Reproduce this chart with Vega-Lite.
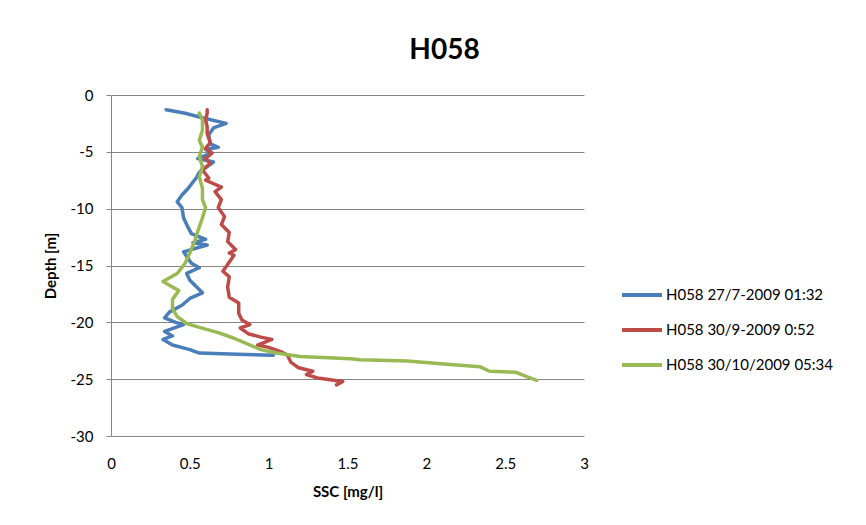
{
  "$schema": "https://vega.github.io/schema/vega-lite/v6.json",
  "autosize": "none",
  "width": 473,
  "height": 341,
  "padding": {"left": 111, "top": 95, "right": 282, "bottom": 89},
  "background": "white",
  "title": {"text": "H058", "fontSize": 28, "font": "Lato", "fontWeight": "bold", "color": "#000000", "anchor": "middle", "dx": 97, "dy": 33, "offset": 34, "baseline": "alphabetic"},
  "config": {"font": "Lato", "view": {"stroke": null}},
  "data": {"values": [
    {"s":"H058 27/7-2009 01:32","ssc":0.35,"depth":-1.3},
    {"s":"H058 27/7-2009 01:32","ssc":0.47,"depth":-1.6},
    {"s":"H058 27/7-2009 01:32","ssc":0.58,"depth":-2.0},
    {"s":"H058 27/7-2009 01:32","ssc":0.73,"depth":-2.5},
    {"s":"H058 27/7-2009 01:32","ssc":0.65,"depth":-2.9},
    {"s":"H058 27/7-2009 01:32","ssc":0.62,"depth":-3.5},
    {"s":"H058 27/7-2009 01:32","ssc":0.63,"depth":-4.3},
    {"s":"H058 27/7-2009 01:32","ssc":0.68,"depth":-4.6},
    {"s":"H058 27/7-2009 01:32","ssc":0.60,"depth":-4.8},
    {"s":"H058 27/7-2009 01:32","ssc":0.64,"depth":-5.1},
    {"s":"H058 27/7-2009 01:32","ssc":0.55,"depth":-5.6},
    {"s":"H058 27/7-2009 01:32","ssc":0.65,"depth":-5.9},
    {"s":"H058 27/7-2009 01:32","ssc":0.61,"depth":-6.3},
    {"s":"H058 27/7-2009 01:32","ssc":0.56,"depth":-6.8},
    {"s":"H058 27/7-2009 01:32","ssc":0.54,"depth":-7.3},
    {"s":"H058 27/7-2009 01:32","ssc":0.49,"depth":-8.2},
    {"s":"H058 27/7-2009 01:32","ssc":0.45,"depth":-8.8},
    {"s":"H058 27/7-2009 01:32","ssc":0.42,"depth":-9.4},
    {"s":"H058 27/7-2009 01:32","ssc":0.45,"depth":-9.9},
    {"s":"H058 27/7-2009 01:32","ssc":0.46,"depth":-10.8},
    {"s":"H058 27/7-2009 01:32","ssc":0.48,"depth":-11.4},
    {"s":"H058 27/7-2009 01:32","ssc":0.51,"depth":-12.2},
    {"s":"H058 27/7-2009 01:32","ssc":0.60,"depth":-12.7},
    {"s":"H058 27/7-2009 01:32","ssc":0.52,"depth":-13.0},
    {"s":"H058 27/7-2009 01:32","ssc":0.61,"depth":-13.2},
    {"s":"H058 27/7-2009 01:32","ssc":0.46,"depth":-13.8},
    {"s":"H058 27/7-2009 01:32","ssc":0.51,"depth":-14.8},
    {"s":"H058 27/7-2009 01:32","ssc":0.56,"depth":-15.2},
    {"s":"H058 27/7-2009 01:32","ssc":0.48,"depth":-15.7},
    {"s":"H058 27/7-2009 01:32","ssc":0.50,"depth":-16.3},
    {"s":"H058 27/7-2009 01:32","ssc":0.58,"depth":-17.4},
    {"s":"H058 27/7-2009 01:32","ssc":0.50,"depth":-17.9},
    {"s":"H058 27/7-2009 01:32","ssc":0.45,"depth":-18.5},
    {"s":"H058 27/7-2009 01:32","ssc":0.37,"depth":-19.1},
    {"s":"H058 27/7-2009 01:32","ssc":0.34,"depth":-19.6},
    {"s":"H058 27/7-2009 01:32","ssc":0.41,"depth":-20.0},
    {"s":"H058 27/7-2009 01:32","ssc":0.46,"depth":-20.2},
    {"s":"H058 27/7-2009 01:32","ssc":0.34,"depth":-20.8},
    {"s":"H058 27/7-2009 01:32","ssc":0.39,"depth":-21.2},
    {"s":"H058 27/7-2009 01:32","ssc":0.33,"depth":-21.5},
    {"s":"H058 27/7-2009 01:32","ssc":0.39,"depth":-22.0},
    {"s":"H058 27/7-2009 01:32","ssc":0.50,"depth":-22.4},
    {"s":"H058 27/7-2009 01:32","ssc":0.56,"depth":-22.7},
    {"s":"H058 27/7-2009 01:32","ssc":0.80,"depth":-22.8},
    {"s":"H058 27/7-2009 01:32","ssc":1.03,"depth":-22.9},
    {"s":"H058 30/9-2009 0:52","ssc":0.61,"depth":-1.3},
    {"s":"H058 30/9-2009 0:52","ssc":0.61,"depth":-1.6},
    {"s":"H058 30/9-2009 0:52","ssc":0.60,"depth":-2.2},
    {"s":"H058 30/9-2009 0:52","ssc":0.61,"depth":-2.8},
    {"s":"H058 30/9-2009 0:52","ssc":0.61,"depth":-3.4},
    {"s":"H058 30/9-2009 0:52","ssc":0.63,"depth":-4.2},
    {"s":"H058 30/9-2009 0:52","ssc":0.60,"depth":-4.7},
    {"s":"H058 30/9-2009 0:52","ssc":0.64,"depth":-5.1},
    {"s":"H058 30/9-2009 0:52","ssc":0.60,"depth":-5.6},
    {"s":"H058 30/9-2009 0:52","ssc":0.63,"depth":-6.0},
    {"s":"H058 30/9-2009 0:52","ssc":0.58,"depth":-6.6},
    {"s":"H058 30/9-2009 0:52","ssc":0.62,"depth":-7.3},
    {"s":"H058 30/9-2009 0:52","ssc":0.60,"depth":-7.5},
    {"s":"H058 30/9-2009 0:52","ssc":0.70,"depth":-8.1},
    {"s":"H058 30/9-2009 0:52","ssc":0.66,"depth":-8.5},
    {"s":"H058 30/9-2009 0:52","ssc":0.70,"depth":-9.2},
    {"s":"H058 30/9-2009 0:52","ssc":0.68,"depth":-9.9},
    {"s":"H058 30/9-2009 0:52","ssc":0.72,"depth":-10.7},
    {"s":"H058 30/9-2009 0:52","ssc":0.70,"depth":-11.4},
    {"s":"H058 30/9-2009 0:52","ssc":0.75,"depth":-12.1},
    {"s":"H058 30/9-2009 0:52","ssc":0.74,"depth":-12.9},
    {"s":"H058 30/9-2009 0:52","ssc":0.79,"depth":-13.6},
    {"s":"H058 30/9-2009 0:52","ssc":0.75,"depth":-13.9},
    {"s":"H058 30/9-2009 0:52","ssc":0.78,"depth":-14.1},
    {"s":"H058 30/9-2009 0:52","ssc":0.71,"depth":-15.5},
    {"s":"H058 30/9-2009 0:52","ssc":0.75,"depth":-16.0},
    {"s":"H058 30/9-2009 0:52","ssc":0.74,"depth":-16.9},
    {"s":"H058 30/9-2009 0:52","ssc":0.75,"depth":-17.8},
    {"s":"H058 30/9-2009 0:52","ssc":0.81,"depth":-18.3},
    {"s":"H058 30/9-2009 0:52","ssc":0.81,"depth":-19.2},
    {"s":"H058 30/9-2009 0:52","ssc":0.83,"depth":-19.8},
    {"s":"H058 30/9-2009 0:52","ssc":0.88,"depth":-20.2},
    {"s":"H058 30/9-2009 0:52","ssc":0.82,"depth":-20.5},
    {"s":"H058 30/9-2009 0:52","ssc":0.87,"depth":-21.0},
    {"s":"H058 30/9-2009 0:52","ssc":0.95,"depth":-21.3},
    {"s":"H058 30/9-2009 0:52","ssc":1.02,"depth":-21.5},
    {"s":"H058 30/9-2009 0:52","ssc":0.93,"depth":-22.0},
    {"s":"H058 30/9-2009 0:52","ssc":1.00,"depth":-22.2},
    {"s":"H058 30/9-2009 0:52","ssc":1.08,"depth":-22.6},
    {"s":"H058 30/9-2009 0:52","ssc":1.12,"depth":-22.9},
    {"s":"H058 30/9-2009 0:52","ssc":1.14,"depth":-23.5},
    {"s":"H058 30/9-2009 0:52","ssc":1.19,"depth":-24.0},
    {"s":"H058 30/9-2009 0:52","ssc":1.28,"depth":-24.3},
    {"s":"H058 30/9-2009 0:52","ssc":1.24,"depth":-24.6},
    {"s":"H058 30/9-2009 0:52","ssc":1.31,"depth":-24.9},
    {"s":"H058 30/9-2009 0:52","ssc":1.47,"depth":-25.2},
    {"s":"H058 30/9-2009 0:52","ssc":1.43,"depth":-25.5},
    {"s":"H058 30/10/2009 05:34","ssc":0.56,"depth":-1.6},
    {"s":"H058 30/10/2009 05:34","ssc":0.58,"depth":-2.2},
    {"s":"H058 30/10/2009 05:34","ssc":0.58,"depth":-3.1},
    {"s":"H058 30/10/2009 05:34","ssc":0.56,"depth":-4.0},
    {"s":"H058 30/10/2009 05:34","ssc":0.58,"depth":-4.6},
    {"s":"H058 30/10/2009 05:34","ssc":0.56,"depth":-5.4},
    {"s":"H058 30/10/2009 05:34","ssc":0.58,"depth":-6.3},
    {"s":"H058 30/10/2009 05:34","ssc":0.56,"depth":-7.2},
    {"s":"H058 30/10/2009 05:34","ssc":0.58,"depth":-8.2},
    {"s":"H058 30/10/2009 05:34","ssc":0.58,"depth":-9.2},
    {"s":"H058 30/10/2009 05:34","ssc":0.60,"depth":-9.9},
    {"s":"H058 30/10/2009 05:34","ssc":0.58,"depth":-10.8},
    {"s":"H058 30/10/2009 05:34","ssc":0.55,"depth":-12.0},
    {"s":"H058 30/10/2009 05:34","ssc":0.53,"depth":-12.9},
    {"s":"H058 30/10/2009 05:34","ssc":0.50,"depth":-13.9},
    {"s":"H058 30/10/2009 05:34","ssc":0.47,"depth":-14.8},
    {"s":"H058 30/10/2009 05:34","ssc":0.42,"depth":-15.7},
    {"s":"H058 30/10/2009 05:34","ssc":0.33,"depth":-16.4},
    {"s":"H058 30/10/2009 05:34","ssc":0.39,"depth":-16.9},
    {"s":"H058 30/10/2009 05:34","ssc":0.43,"depth":-17.2},
    {"s":"H058 30/10/2009 05:34","ssc":0.39,"depth":-18.0},
    {"s":"H058 30/10/2009 05:34","ssc":0.39,"depth":-18.8},
    {"s":"H058 30/10/2009 05:34","ssc":0.42,"depth":-19.5},
    {"s":"H058 30/10/2009 05:34","ssc":0.48,"depth":-20.1},
    {"s":"H058 30/10/2009 05:34","ssc":0.55,"depth":-20.4},
    {"s":"H058 30/10/2009 05:34","ssc":0.68,"depth":-20.9},
    {"s":"H058 30/10/2009 05:34","ssc":0.78,"depth":-21.4},
    {"s":"H058 30/10/2009 05:34","ssc":0.85,"depth":-21.8},
    {"s":"H058 30/10/2009 05:34","ssc":0.95,"depth":-22.4},
    {"s":"H058 30/10/2009 05:34","ssc":1.05,"depth":-22.7},
    {"s":"H058 30/10/2009 05:34","ssc":1.20,"depth":-23.0},
    {"s":"H058 30/10/2009 05:34","ssc":1.52,"depth":-23.2},
    {"s":"H058 30/10/2009 05:34","ssc":1.58,"depth":-23.3},
    {"s":"H058 30/10/2009 05:34","ssc":1.88,"depth":-23.4},
    {"s":"H058 30/10/2009 05:34","ssc":2.15,"depth":-23.7},
    {"s":"H058 30/10/2009 05:34","ssc":2.34,"depth":-23.9},
    {"s":"H058 30/10/2009 05:34","ssc":2.40,"depth":-24.3},
    {"s":"H058 30/10/2009 05:34","ssc":2.57,"depth":-24.4},
    {"s":"H058 30/10/2009 05:34","ssc":2.64,"depth":-24.8},
    {"s":"H058 30/10/2009 05:34","ssc":2.70,"depth":-25.1}
  ]},
  "mark": {"type": "line", "strokeWidth": 3.5, "strokeJoin": "round", "strokeCap": "round"},
  "encoding": {
    "x": {"field": "ssc", "type": "quantitative",
      "scale": {"domain": [0, 3], "nice": false, "zero": false},
      "axis": {"title": "SSC [mg/l]", "values": [0, 0.5, 1, 1.5, 2, 2.5, 3], "labelExpr": "'' + datum.value", "grid": false, "domain": false, "ticks": false,
        "labelFontSize": 15, "labelColor": "#000000", "labelPadding": 20, "labelFlush": false,
        "titleFontSize": 15, "titleFontWeight": "bold", "titleColor": "#000000", "titlePadding": 13}},
    "y": {"field": "depth", "type": "quantitative",
      "scale": {"domain": [-30, 0], "nice": false, "zero": false},
      "axis": {"title": "Depth [m]", "values": [0, -5, -10, -15, -20, -25, -30], "labelExpr": "'' + datum.value", "grid": true, "gridColor": "#868686", "gridWidth": 1,
        "domain": true, "domainColor": "#868686", "domainWidth": 1, "ticks": true, "tickColor": "#868686", "tickSize": 5,
        "labelFontSize": 15, "labelColor": "#000000", "labelPadding": 13, "labelFlush": false,
        "titleFontSize": 15, "titleFontWeight": "bold", "titleColor": "#000000", "titlePadding": 12}},
    "color": {"field": "s", "type": "nominal",
      "scale": {"domain": ["H058 27/7-2009 01:32", "H058 30/9-2009 0:52", "H058 30/10/2009 05:34"], "range": ["#4A7EBB", "#BE4B48", "#98B954"]},
      "legend": {"title": null, "orient": "none", "legendX": 509, "legendY": 178, "symbolType": "stroke", "symbolSize": 1600, "symbolStrokeWidth": 4,
        "labelFontSize": 15, "labelColor": "#000000", "rowPadding": 5, "labelOffset": 2, "labelLimit": 300}},
    "order": {"field": "depth", "sort": "descending"}
  }
}
